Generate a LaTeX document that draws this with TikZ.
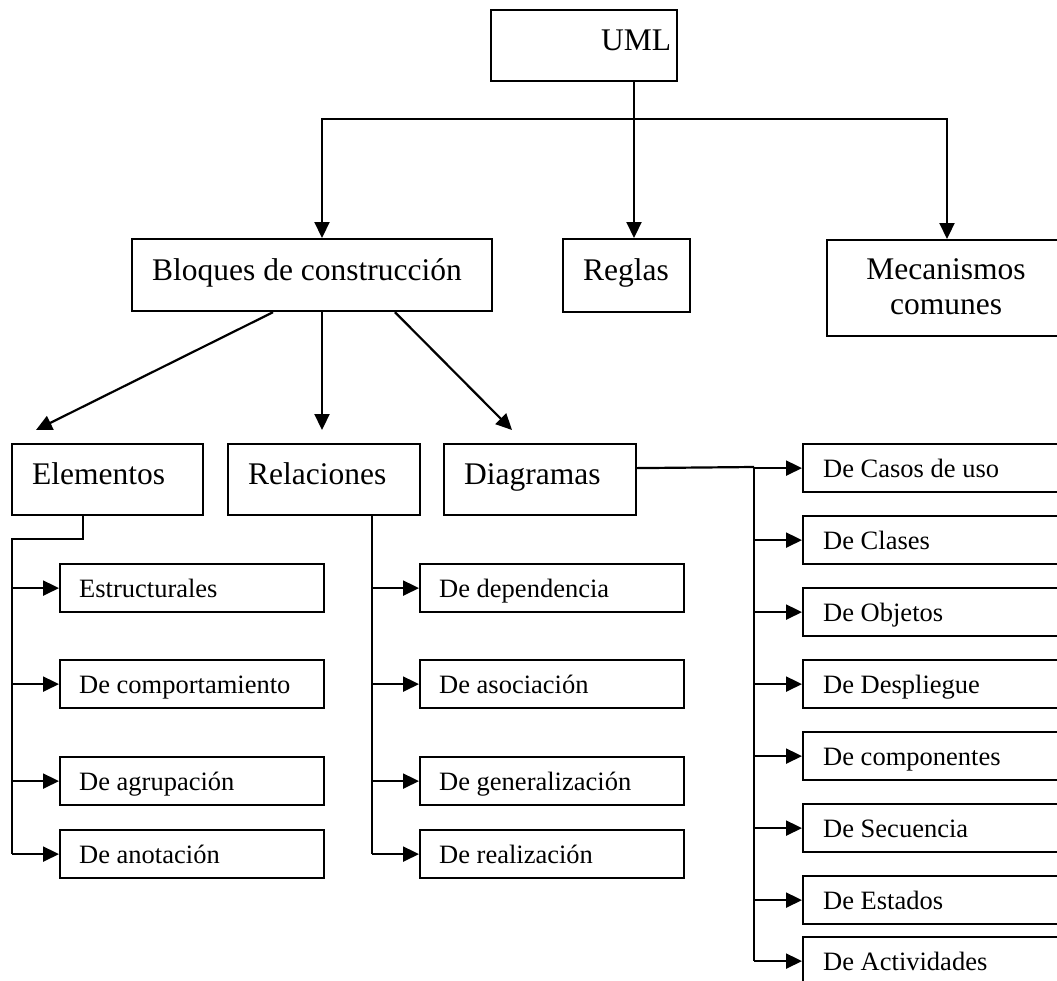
\documentclass[tikz,border=0pt]{standalone}
\usepackage{fontspec}
\setmainfont{Liberation Serif}
\usetikzlibrary{arrows.meta,calc}
\begin{document}
\begin{tikzpicture}[x=1pt,y=-1pt,
  box/.style={draw, line width=2.2pt, rectangle, inner sep=0pt, anchor=north west},
  bigtext/.style={font=\fontsize{31.5}{35}\selectfont, anchor=base west, inner sep=0pt},
  smalltext/.style={font=\fontsize{26.5}{30}\selectfont, anchor=base west, inner sep=0pt},
  conn/.style={line width=2.2pt},
  arr/.style={conn, -{Triangle[length=16pt,width=15pt]}}]
\useasboundingbox (0,0) rectangle (1057,980);

% top level boxes
\node[box, minimum width=186pt, minimum height=71pt] (uml) at (490,9) {};
\node[bigtext] (umlt) at (601,50) {UML};
\node[box, minimum width=360pt, minimum height=72pt] (bloques) at (131,238) {};
\node[bigtext] (bloquest) at (152,280) {Bloques de construcción};
\node[box, minimum width=127pt, minimum height=73pt] (reglas) at (562,238) {};
\node[bigtext] (reglast) at (583,280) {Reglas};
\node[box, minimum width=240pt, minimum height=96pt] (mec) at (826,239) {};
\node[bigtext, anchor=base] (mect1) at (946,279) {Mecanismos};
\node[bigtext, anchor=base] (mect2) at (946,314) {comunes};

% second level
\node[box, minimum width=191pt, minimum height=71pt] (elem) at (11,443) {};
\node[bigtext] (elemt) at (32,484) {Elementos};
\node[box, minimum width=192pt, minimum height=71pt] (rel) at (227,443) {};
\node[bigtext] (relt) at (248,484) {Relaciones};
\node[box, minimum width=192pt, minimum height=71pt] (diag) at (443,443) {};
\node[bigtext] (diagt) at (464,484) {Diagramas};

% left column
\foreach \n/\y/\t in {e1/563/Estructurales, e2/659/De comportamiento, e3/756/De agrupación, e4/829/De anotación}{
  \node[box, minimum width=264pt, minimum height=48pt] (\n) at (59,\y) {};
  \node[smalltext] (\n t) at (79,\y+34) {\t};
}
% middle column
\foreach \n/\y/\t in {r1/563/De dependencia, r2/659/De asociación, r3/756/De generalización, r4/829/De realización}{
  \node[box, minimum width=264pt, minimum height=48pt] (\n) at (419,\y) {};
  \node[smalltext] (\n t) at (439,\y+34) {\t};
}
% right column
\foreach \n/\y/\t in {d1/443/De Casos de uso, d2/515/De Clases, d3/587/De Objetos, d4/659/De Despliegue, d5/731/De componentes, d6/803/De Secuencia, d7/875/De Estados, d8/936/De Actividades}{
  \node[box, minimum width=280pt, minimum height=48pt] (\n) at (802,\y) {};
  \node[smalltext] (\n t) at (823,\y+34) {\t};
}

% top connectors
\coordinate (jm) at (634,119);
\coordinate (jl) at (322,119);
\coordinate (jr) at (947,119);
\draw[conn] (jm |- uml.south) -- (jm);
\draw[arr] (jm) -- (jm |- reglas.north);
\draw[arr] (jm) -- (jl) -- (jl |- bloques.north);
\draw[arr] (jm) -- (jr) -- (jr |- mec.north);

% from Bloques
\coordinate (tipe) at (36,430);
\coordinate (tipr) at (322,430);
\coordinate (tipd) at (512,430);
\draw[arr] (bloques.south -| 273,0) -- (tipe);
\draw[arr] (bloques.south -| tipr) -- (tipr);
\draw[arr] (bloques.south -| 395,0) -- (tipd);

% Elementos tree
\coordinate (eb) at (83,539);
\coordinate (etrunk) at (12,539);
\draw[conn] (eb |- elem.south) -- (eb) -- (etrunk) -- (etrunk |- e4.west);
\foreach \n in {e1,e2,e3,e4}{ \draw[arr] (etrunk |- \n.west) -- (\n.west); }

% Relaciones tree
\coordinate (rout) at (372,539);
\draw[conn] (rout |- rel.south) -- (rout |- r4.west);
\foreach \n in {r1,r2,r3,r4}{ \draw[arr] (rout |- \n.west) -- (\n.west); }

% Diagramas tree
\coordinate (dtrunk) at (754,467);
\draw[conn] (diag.east |- d1.west) -- (dtrunk);
\draw[conn] (dtrunk |- d1.west) -- (dtrunk |- d8.west);
\foreach \n in {d1,d2,d3,d4,d5,d6,d7,d8}{ \draw[arr] (dtrunk |- \n.west) -- (\n.west); }
\end{tikzpicture}
\end{document}
